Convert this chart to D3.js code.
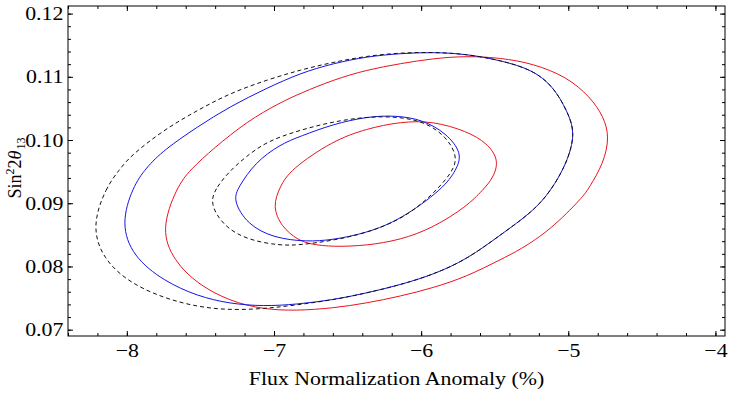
<!DOCTYPE html>
<html>
<head>
<meta charset="utf-8">
<script src="https://cdn.jsdelivr.net/npm/d3@7"></script>
<style>
  body { margin: 0; background: #fff; }
  svg { display: block; font-family: "Liberation Serif", "Times New Roman", serif; }
</style>
</head>
<body>
<div id="chart"></div>
<script>
// tick values
const xMajor = [-8, -7, -6, -5, -4];
const yMajor = [0.07, 0.08, 0.09, 0.10, 0.11, 0.12];

// contour points [flux anomaly %, sin^2 2theta13]
const outerDashed = [
    [-8.24, 0.0864], [-8.14, 0.0926], [-8.05, 0.0953], [-7.98, 0.0974], [-7.75, 0.1016],
    [-7.52, 0.1047], [-7.30, 0.1074], [-7.05, 0.1095], [-6.82, 0.1111], [-6.60, 0.1123],
    [-6.37, 0.1133], [-6.14, 0.1138], [-5.92, 0.1139], [-5.69, 0.1136], [-5.46, 0.1126],
    [-5.24, 0.1111], [-5.10, 0.1084], [-5.01, 0.1047], [-4.95, 0.1011], [-5.01, 0.0963],
    [-5.12, 0.0919], [-5.24, 0.0887], [-5.46, 0.0850], [-5.69, 0.0811], [-5.92, 0.0787],
    [-6.14, 0.0771], [-6.37, 0.0758], [-6.60, 0.0747], [-6.85, 0.0739], [-7.07, 0.0733],
    [-7.30, 0.0731], [-7.52, 0.0736], [-7.75, 0.0750], [-7.98, 0.0774], [-8.16, 0.0811]
];
const outerBlue = [
    [-8.04, 0.0868], [-7.96, 0.0926], [-7.87, 0.0956], [-7.75, 0.0984], [-7.52, 0.1021],
    [-7.30, 0.1053], [-7.05, 0.1082], [-6.82, 0.1106], [-6.60, 0.1121], [-6.37, 0.1132],
    [-6.14, 0.1137], [-5.92, 0.1139], [-5.69, 0.1136], [-5.46, 0.1126], [-5.24, 0.1111],
    [-5.10, 0.1084], [-5.01, 0.1047], [-4.95, 0.1011], [-5.01, 0.0963], [-5.12, 0.0919],
    [-5.24, 0.0887], [-5.46, 0.0850], [-5.69, 0.0811], [-5.92, 0.0787], [-6.14, 0.0771],
    [-6.37, 0.0758], [-6.60, 0.0747], [-6.85, 0.0740], [-7.07, 0.0737], [-7.30, 0.0741],
    [-7.52, 0.0753], [-7.75, 0.0777], [-7.96, 0.0816]
];
const outerRed = [
    [-7.77, 0.0858], [-7.66, 0.0926], [-7.57, 0.0953], [-7.41, 0.0987], [-7.18, 0.1030],
    [-6.96, 0.1059], [-6.82, 0.1074], [-6.60, 0.1095], [-6.37, 0.1111], [-6.14, 0.1121],
    [-5.92, 0.1129], [-5.69, 0.1133], [-5.46, 0.1130], [-5.24, 0.1121], [-5.01, 0.1100],
    [-4.85, 0.1068], [-4.76, 0.1037], [-4.72, 0.1005], [-4.76, 0.0963], [-4.86, 0.0924],
    [-4.90, 0.0910], [-5.12, 0.0858], [-5.33, 0.0826], [-5.46, 0.0811], [-5.69, 0.0784],
    [-5.92, 0.0766], [-6.14, 0.0753], [-6.37, 0.0742], [-6.60, 0.0734], [-6.85, 0.0730],
    [-7.07, 0.0732], [-7.30, 0.0745], [-7.52, 0.0772], [-7.68, 0.0809]
];
const innerDashed = [
    [-7.44, 0.0900], [-7.39, 0.0926], [-7.30, 0.0951], [-7.20, 0.0972], [-7.05, 0.0998],
    [-6.82, 0.1016], [-6.60, 0.1029], [-6.37, 0.1037], [-6.14, 0.1037], [-5.96, 0.1027],
    [-5.83, 0.1005], [-5.75, 0.0974], [-5.79, 0.0947], [-5.96, 0.0905], [-6.14, 0.0874],
    [-6.37, 0.0853], [-6.60, 0.0841], [-6.82, 0.0834], [-6.96, 0.0833], [-7.18, 0.0842],
    [-7.34, 0.0863]
];
const innerBlue = [
    [-7.28, 0.0905], [-7.24, 0.0926], [-7.13, 0.0964], [-6.96, 0.0993],
    [-6.82, 0.1006], [-6.60, 0.1025], [-6.37, 0.1037], [-6.17, 0.1039], [-5.99, 0.1032],
    [-5.83, 0.1011], [-5.72, 0.0979], [-5.76, 0.0953], [-5.85, 0.0923], [-6.14, 0.0874],
    [-6.37, 0.0853], [-6.60, 0.0842], [-6.78, 0.0839], [-7.00, 0.0845], [-7.18, 0.0866]
];
const innerRed = [
    [-7.01, 0.0895], [-6.96, 0.0926], [-6.89, 0.0953], [-6.60, 0.0999],
    [-6.37, 0.1018], [-6.14, 0.1029], [-5.92, 0.1030], [-5.69, 0.1014], [-5.55, 0.0995],
    [-5.47, 0.0968], [-5.51, 0.0940], [-5.58, 0.0921], [-5.69, 0.0895], [-5.92, 0.0861],
    [-6.14, 0.0842], [-6.37, 0.0833], [-6.60, 0.0831], [-6.75, 0.0835], [-6.84, 0.0842],
    [-6.95, 0.0863]
];

// drawing order: red first, dashed last (sits on top of blue)
let contours = [
    {points: outerRed, color: "#e8141e", dash: null},
    {points: innerRed, color: "#e8141e", dash: null},
    {points: outerBlue, color: "#1414e6", dash: null},
    {points: innerBlue, color: "#1414e6", dash: null},
    {points: outerDashed, color: "#111", dash: "4,3"},
    {points: innerDashed, color: "#111", dash: "4,3"}
];

let margin = {top: 6, right: 5, bottom: 58, left: 68};
let width = 730 - margin.left - margin.right,
    height = 394 - margin.top - margin.bottom;

let xScale = d3.scaleLinear().domain([-8.4, -3.935]).range([0, width]);
let yScale = d3.scaleLinear().domain([0.0690, 0.1212]).range([height, 0]);

let xMinor = d3.range(-8.4, -3.9, 0.2);
let yMinor = d3.range(0.070, 0.1211, 0.002);

let svg = d3.select("#chart").append("svg")
    .attr("width", 730)
    .attr("height", 394);

let plot = svg.append("g")
    .attr("transform", `translate(${margin.left}, ${margin.top})`);

// B-spline smooths out small reading errors in the hand-picked points
let line = d3.line()
    .x(function(d) { return xScale(d[0]); })
    .y(function(d) { return yScale(d[1]); })
    .curve(d3.curveBasisClosed);

plot.selectAll(".contour")
    .data(contours)
    .enter().append("path")
    .attr("class", "contour")
    .attr("d", function(d) { return line(d.points); })
    .attr("fill", "none")
    .attr("stroke", function(d) { return d.color; })
    .attr("stroke-width", 1)
    .attr("stroke-dasharray", function(d) { return d.dash; });

// frame ticks point inwards on all four sides
function addAxis(axis, transform) {
    let g = plot.append("g").attr("transform", transform).call(axis);
    g.select(".domain").remove();
    g.selectAll(".tick line").attr("stroke", "#000");
    return g;
}

addAxis(d3.axisBottom(xScale).tickValues(xMinor).tickSize(-3).tickFormat(""), `translate(0, ${height})`);
addAxis(d3.axisTop(xScale).tickValues(xMinor).tickSize(-3).tickFormat(""), "translate(0, 0)");
addAxis(d3.axisTop(xScale).tickValues(xMajor).tickSize(-5).tickFormat(""), "translate(0, 0)");
addAxis(d3.axisLeft(yScale).tickValues(yMinor).tickSize(-3).tickFormat(""), "translate(0, 0)");
addAxis(d3.axisRight(yScale).tickValues(yMinor).tickSize(-3).tickFormat(""), `translate(${width}, 0)`);
addAxis(d3.axisRight(yScale).tickValues(yMajor).tickSize(-5).tickFormat(""), `translate(${width}, 0)`);

let xAxisG = addAxis(d3.axisBottom(xScale).tickValues(xMajor).tickSize(-5).tickPadding(8)
    .tickFormat(d3.format("d")), `translate(0, ${height})`);
let yAxisG = addAxis(d3.axisLeft(yScale).tickValues(yMajor).tickSize(-5).tickPadding(4)
    .tickFormat(d3.format(".2f")), "translate(0, 0)");

[xAxisG, yAxisG].forEach(function(g) {
    g.selectAll("text")
        .attr("fill", "#000")
        .style("font-family", "'Liberation Serif', serif")
        .style("font-size", "19px")
        .attr("transform", "scale(1.15, 1)");
});

plot.append("rect")
    .attr("width", width)
    .attr("height", height)
    .attr("fill", "none")
    .attr("stroke", "#000")
    .attr("stroke-width", 1);

// axis titles
svg.append("text")
    .attr("transform", `translate(${margin.left + width / 2}, 385) scale(1.15, 1)`)
    .attr("text-anchor", "middle")
    .style("font-size", "19px")
    .text("Flux Normalization Anomaly (%)");

let yTitle = svg.append("text")
    .attr("transform", "translate(21, 168) rotate(-90)")
    .attr("text-anchor", "middle")
    .style("font-size", "18px");
yTitle.append("tspan").text("Sin");
yTitle.append("tspan").attr("dy", -7).style("font-size", "12px").text("2");
yTitle.append("tspan").attr("dy", 7).text("2");
yTitle.append("tspan").style("font-style", "italic").text("θ");
yTitle.append("tspan").attr("dy", 4).attr("dx", 1).style("font-size", "12px").text("13");
</script>
</body>
</html>
